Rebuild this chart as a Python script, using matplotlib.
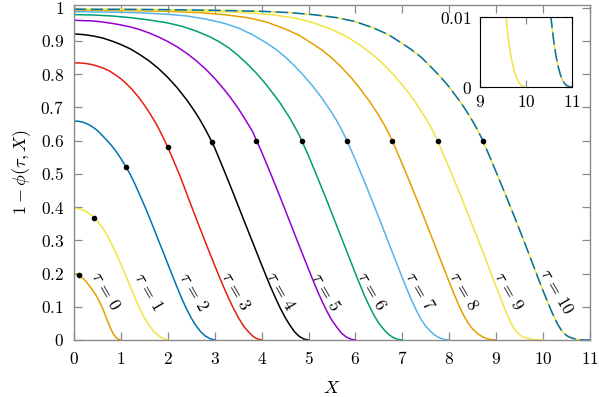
import matplotlib
matplotlib.use("Agg")
import matplotlib.pyplot as plt

plt.rcParams['mathtext.fontset'] = 'cm'
plt.rcParams['font.family'] = 'DejaVu Serif'

# curves 1 - phi(tau, X)
x_t0 = [0, 0.05, 0.1, 0.15, 0.2, 0.25, 0.3, 0.35, 0.4, 0.45, 0.5, 0.55, 0.6, 0.65, 0.7, 0.75, 0.8, 0.85, 0.9, 0.95, 1.0]
y_t0 = [0.200, 0.199, 0.196, 0.191, 0.184, 0.177, 0.168, 0.159, 0.149, 0.139, 0.127, 0.113, 0.098, 0.081, 0.063, 0.045, 0.029, 0.016, 0.007, 0.002, 0.0]

x_t1 = [0, 0.1, 0.2, 0.3, 0.4, 0.5, 0.6, 0.7, 0.8, 0.9, 1.0, 1.1, 1.2, 1.3, 1.4, 1.5, 1.6, 1.7, 1.8, 1.9, 2.0]
y_t1 = [0.396, 0.395, 0.391, 0.383, 0.372, 0.357, 0.339, 0.317, 0.290, 0.260, 0.228, 0.195, 0.161, 0.127, 0.095, 0.067, 0.044, 0.026, 0.013, 0.004, 0.0]

x_t2 = [0, 0.1, 0.2, 0.3, 0.4, 0.5, 0.6, 0.7, 0.8, 0.9, 1.0, 1.1, 1.2, 1.3, 1.4, 1.5, 1.6, 1.7, 1.8, 1.9,
        2.0, 2.1, 2.2, 2.3, 2.4, 2.5, 2.6, 2.7, 2.8, 2.9, 3.0]
y_t2 = [0.659, 0.658, 0.655, 0.649, 0.641, 0.630, 0.616, 0.601, 0.585, 0.567, 0.546, 0.523, 0.498, 0.469, 0.437, 0.405, 0.371, 0.336, 0.300, 0.265,
        0.229, 0.193, 0.158, 0.124, 0.093, 0.066, 0.043, 0.025, 0.012, 0.004, 0.0]

x_t3 = [0, 0.125, 0.25, 0.375, 0.5, 0.625, 0.75, 0.875, 1.0, 1.125, 1.25, 1.375, 1.5, 1.625, 1.75, 1.875, 2.0,
        2.125, 2.25, 2.375, 2.5, 2.625, 2.75, 2.875, 3.0, 3.125, 3.25, 3.375, 3.5, 3.625, 3.75, 3.825, 3.9, 4.0]
y_t3 = [0.834, 0.8335, 0.832, 0.829, 0.824, 0.818, 0.810, 0.7985, 0.786, 0.770, 0.752, 0.731, 0.707, 0.680, 0.651, 0.617, 0.580,
        0.539, 0.497, 0.451, 0.404, 0.358, 0.313, 0.268, 0.224, 0.181, 0.140, 0.102, 0.068, 0.040, 0.020, 0.010, 0.004, 0.0]

x_t4 = [0, 0.2, 0.4, 0.6, 0.8, 1.0, 1.2, 1.4, 1.6, 1.8, 2.0, 2.2, 2.4, 2.5, 2.6, 2.7, 2.8, 2.9,
        3.0, 3.2, 3.4, 3.6, 3.8, 4.0, 4.1, 4.2, 4.3, 4.4, 4.5, 4.6, 4.7, 4.8, 4.9, 5.0]
y_t4 = [0.921, 0.919, 0.915, 0.909, 0.900, 0.889, 0.876, 0.859, 0.840, 0.817, 0.790, 0.759, 0.723, 0.703, 0.682, 0.659, 0.634, 0.607,
        0.578, 0.510, 0.440, 0.368, 0.297, 0.226, 0.191, 0.157, 0.125, 0.095, 0.068, 0.045, 0.025, 0.011, 0.003, 0.0]

x_t5 = [0, 0.2, 0.4, 0.6, 0.8, 1.0, 1.2, 1.4, 1.6, 1.8, 2.0, 2.2, 2.4, 2.6, 2.8, 3.0, 3.2, 3.3, 3.4, 3.5, 3.6, 3.7,
        3.8, 4.0, 4.2, 4.4, 4.6, 4.8, 5.0, 5.1, 5.2, 5.3, 5.4, 5.5, 5.6, 5.7, 5.8, 5.9, 6.0]
y_t5 = [0.962, 0.961, 0.960, 0.957, 0.953, 0.948, 0.942, 0.934, 0.924, 0.912, 0.898, 0.882, 0.863, 0.841, 0.816, 0.787, 0.754, 0.736, 0.717, 0.697, 0.675, 0.652,
        0.629, 0.566, 0.498, 0.428, 0.356, 0.284, 0.213, 0.178, 0.144, 0.113, 0.084, 0.059, 0.039, 0.021, 0.0093, 0.0027, 0.0]

x_t6 = [0, 0.4, 0.8, 1.2, 1.6, 2.0, 2.3, 2.6, 2.9, 3.1, 3.3, 3.5, 3.7, 3.9, 4.1, 4.3, 4.4, 4.5, 4.6, 4.7,
        4.8, 5.0, 5.2, 5.4, 5.6, 5.8, 6.0, 6.1, 6.2, 6.3, 6.4, 6.5, 6.6, 6.7, 6.8, 6.9, 7.0]
y_t6 = [0.979, 0.978, 0.975, 0.970, 0.963, 0.954, 0.944, 0.930, 0.912, 0.897, 0.879, 0.856, 0.830, 0.801, 0.768, 0.731, 0.712, 0.690, 0.668, 0.643,
        0.617, 0.554, 0.486, 0.416, 0.344, 0.272, 0.200, 0.165, 0.131, 0.101, 0.073, 0.0503, 0.0323, 0.0176, 0.0076, 0.0022, 0.0]

x_t7 = [0, 0.5, 1.0, 1.5, 2.0, 2.4, 2.8, 3.2, 3.5, 3.8, 4.1, 4.3, 4.5, 4.7, 4.9, 5.1, 5.3, 5.4, 5.5, 5.6, 5.7,
        5.8, 6.0, 6.2, 6.4, 6.6, 6.8, 7.0, 7.1, 7.2, 7.3, 7.4, 7.5, 7.6, 7.7, 7.8, 7.9, 8.0]
y_t7 = [0.988, 0.987, 0.986, 0.984, 0.980, 0.975, 0.966, 0.953, 0.939, 0.919, 0.894, 0.875, 0.852, 0.825, 0.795, 0.762, 0.725, 0.704, 0.683, 0.660, 0.634,
        0.606, 0.5415, 0.4735, 0.4035, 0.3315, 0.259, 0.187, 0.152, 0.1185, 0.0885, 0.062, 0.0415, 0.026, 0.014, 0.0059, 0.0016, 0.0]

x_t8 = [0, 0.6, 1.3, 2.0, 2.7, 3.2, 3.7, 4.1, 4.5, 4.8, 5.1, 5.3, 5.5, 5.7, 5.9, 6.1, 6.3, 6.4, 6.5, 6.6, 6.7,
        6.8, 7.0, 7.2, 7.4, 7.6, 7.8, 8.0, 8.1, 8.2, 8.3, 8.4, 8.5, 8.6, 8.7, 8.8, 8.9, 9.0]
y_t8 = [0.993, 0.992, 0.991, 0.989, 0.985, 0.979, 0.970, 0.957, 0.936, 0.917, 0.890, 0.871, 0.848, 0.821, 0.791, 0.756, 0.718, 0.697, 0.675, 0.651, 0.625,
        0.595, 0.529, 0.461, 0.391, 0.319, 0.246, 0.174, 0.139, 0.1057, 0.076, 0.051, 0.0327, 0.0197, 0.0102, 0.0042, 0.0011, 0.0]

x_t9 = [0, 1.0, 2.0, 3.0, 3.7, 4.2, 4.7, 5.1, 5.5, 5.8, 6.1, 6.3, 6.5, 6.7, 6.9, 7.1, 7.3, 7.4, 7.5, 7.6, 7.7,
        7.8, 8.0, 8.2, 8.4, 8.6, 8.8, 9.0, 9.1, 9.2, 9.3, 9.4, 9.5, 9.55, 9.6, 9.65, 9.7, 9.75, 9.8, 9.85, 9.9, 9.95, 10.0]
y_t9 = [0.995, 0.994, 0.992, 0.989, 0.985, 0.979, 0.969, 0.955, 0.934, 0.914, 0.887, 0.866, 0.843, 0.815, 0.784, 0.750, 0.711, 0.689, 0.667, 0.642, 0.615,
        0.583, 0.517, 0.449, 0.379, 0.307, 0.234, 0.160, 0.124, 0.088, 0.055, 0.030, 0.016, 0.011, 0.0078, 0.0053, 0.0035, 0.0022, 0.0013, 0.0006, 0.0002, 0.00004, 0.0]

x_t10 = [0, 1.0, 2.0, 3.0, 4.0, 4.6, 5.1, 5.6, 6.0, 6.4, 6.7, 7.0, 7.2, 7.4, 7.6, 7.8, 8.0, 8.2, 8.3, 8.4, 8.5, 8.6,
         8.7, 8.8, 8.9, 9.0, 9.1, 9.2, 9.3, 9.4, 9.5, 9.6, 9.7, 9.8, 9.9, 10.0, 10.1, 10.2, 10.3, 10.4,
         10.5, 10.55, 10.6, 10.65, 10.7, 10.75, 10.8, 10.85, 10.9, 10.95, 11.0]
y_t10 = [0.995, 0.995, 0.994, 0.992, 0.989, 0.985, 0.979, 0.970, 0.958, 0.938, 0.919, 0.892, 0.873, 0.851, 0.823, 0.794, 0.761, 0.723, 0.703, 0.681, 0.658, 0.633,
         0.604, 0.572, 0.539, 0.505, 0.471, 0.437, 0.402, 0.367, 0.331, 0.295, 0.258, 0.221, 0.184, 0.148, 0.113, 0.080, 0.050, 0.027,
         0.0135, 0.0095, 0.0067, 0.0045, 0.0029, 0.0017, 0.0009, 0.0004, 0.00015, 0.00003, 0.0]

# black dots on each curve
dot_x = [0.113, 0.428, 1.113, 1.998, 2.94, 3.89, 4.855, 5.82, 6.785, 7.75, 8.715]
dot_y = [0.196, 0.367, 0.521, 0.581, 0.595, 0.600, 0.600, 0.600, 0.600, 0.600, 0.600]

# label positions for tau = 0 .. 10
label_x = [0.66, 1.57, 2.55, 3.43, 4.39, 5.36, 6.33, 7.36, 8.29, 9.25, 10.28]
label_y = [0.146] * 11

xs = [x_t0, x_t1, x_t2, x_t3, x_t4, x_t5, x_t6, x_t7, x_t8, x_t9]
ys = [y_t0, y_t1, y_t2, y_t3, y_t4, y_t5, y_t6, y_t7, y_t8, y_t9]
colors = ['#E69F00', '#F0E442', '#0072B2', '#E51E10', 'black', '#9400D3',
          '#009E73', '#56B4E9', '#E69F00', '#F0E442']

grey = '#8a8a8a'
lw = 1.1

fig = plt.figure(figsize=(5.99, 3.97), dpi=100)
ax = fig.add_axes([74 / 599, 1 - 340 / 397, 516 / 599, 335 / 397])

for x, y, c in zip(xs, ys, colors):
    ax.plot(x, y, color=c, lw=lw)
ax.plot(x_t10, y_t10, color='#F0E442', lw=lw)
ax.plot(x_t10, y_t10, color='#0072B2', lw=lw, dashes=(8, 3))
ax.plot(dot_x, dot_y, 'o', color='black', ms=3, zorder=5)

for k in range(11):
    ax.text(label_x[k], label_y[k], r'$\tau\,=\,%d$' % k, rotation=-60,
            ha='center', va='center', fontsize=12.5)

ax.set_xlim(0, 11)
ax.set_ylim(0, 1.008)
ax.set_xticks(range(12))
ax.set_xticklabels([r'$%d$' % i for i in range(12)])
yt = [i / 10 for i in range(11)]
ax.set_yticks(yt)
ax.set_yticklabels(['$0$'] + [r'$0.%d$' % i for i in range(1, 10)] + ['$1$'])
ax.tick_params(direction='in', top=True, right=True, length=6, width=0.9,
               color=grey, labelsize=12.5)
ax.tick_params(axis='x', pad=8)
ax.tick_params(axis='y', pad=7)
for s in ax.spines.values():
    s.set_color(grey)
    s.set_linewidth(1.0)
ax.set_xlabel(r'$X$', fontsize=13, labelpad=8)
ax.set_ylabel(r'$1-\phi(\tau,X)$', fontsize=13, labelpad=5)

# inset near X = 9..11
ins = fig.add_axes([480 / 599, 1 - 87 / 397, 92 / 599, 70 / 397])
ins.plot(x_t9, y_t9, color='#F0E442', lw=lw)
ins.plot(x_t10, y_t10, color='#F0E442', lw=lw)
ins.plot(x_t10, y_t10, color='#0072B2', lw=lw, dashes=(8, 3))
ins.set_xlim(9, 11)
ins.set_ylim(0, 0.01)
ins.set_xticks([9, 10, 11])
ins.set_xticklabels(['$9$', '$10$', '$11$'])
ins.set_yticks([0, 0.01])
ins.set_yticklabels(['$0$', '$0.01$'])
ins.tick_params(direction='in', top=True, right=True, length=5, width=0.9,
                color=grey, labelsize=12.5)
ins.tick_params(axis='x', pad=5)
ins.tick_params(axis='y', pad=6)
for s in ins.spines.values():
    s.set_color('black')
    s.set_linewidth(0.8)

fig.savefig('out.png', dpi=100)
